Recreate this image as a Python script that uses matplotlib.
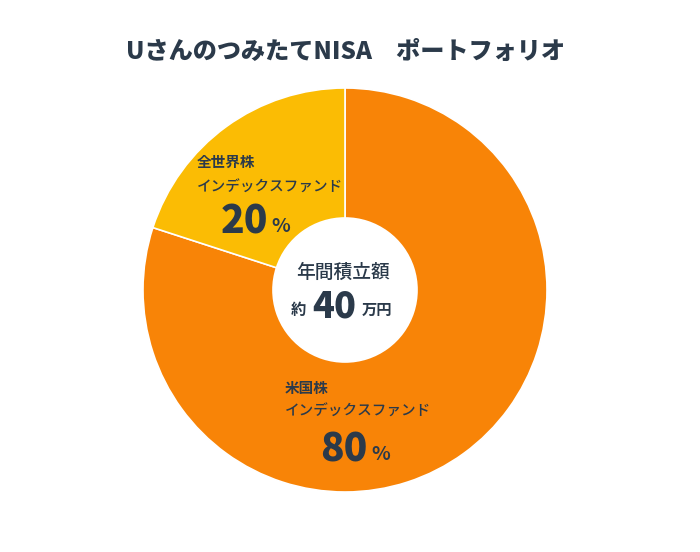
import matplotlib
matplotlib.use("Agg")
import matplotlib.pyplot as plt

plt.rcParams['font.family'] = ['Noto Sans CJK JP', 'DejaVu Sans']

title = "UさんのつみたてNISA　ポートフォリオ"
cat_line1 = ["米国株", "全世界株"]
cat_line2 = ["インデックスファンド", "インデックスファンド"]
shares = [80, 20]
colors = ["#F88407", "#FBBC04"]
center_label = "年間積立額"
annual_amount = 40

TEXT = "#2B3A4A"
W, H = 700, 552
fig = plt.figure(figsize=(7, 5.52), dpi=100)
fig.patch.set_facecolor("white")

cx, cy, R = 345, 290, 202
ax = fig.add_axes([(cx - R) / W, (H - cy - R) / H, 2 * R / W, 2 * R / H])
ax.set_aspect("equal")
ax.axis("off")

inner = 72 / R
ax.pie(shares, colors=colors, startangle=90, counterclock=False, radius=1,
       wedgeprops=dict(width=1 - inner, edgecolor="white", linewidth=1.2))
ax.set_xlim(-1, 1)
ax.set_ylim(-1, 1)

def px(x, y):
    return (x - cx) / R, (cy - y) / R

fig.text(345 / W, 1 - 52 / H, title, ha="center", va="center", fontsize=17.4,
         fontweight="heavy", color=TEXT)

# world stock label
x, y = px(197, 162)
ax.text(x, y, cat_line1[1], ha="left", va="center", fontsize=10.5, fontweight="bold", color=TEXT)
x, y = px(197, 188)
ax.text(x, y, cat_line2[1], ha="left", va="center", fontsize=10.5, fontweight="medium", color=TEXT)
x, y = px(268, 222)
ax.text(x, y, f"{shares[1]}", ha="right", va="center", fontsize=28, fontweight="heavy", color=TEXT)
x, y = px(271, 226)
ax.text(x, y, "%", ha="left", va="center", fontsize=14, fontweight="bold", color=TEXT)

# US stock label
x, y = px(285, 388)
ax.text(x, y, cat_line1[0], ha="left", va="center", fontsize=10.5, fontweight="bold", color=TEXT)
x, y = px(285, 412)
ax.text(x, y, cat_line2[0], ha="left", va="center", fontsize=10.5, fontweight="medium", color=TEXT)
x, y = px(368, 450)
ax.text(x, y, f"{shares[0]}", ha="right", va="center", fontsize=28, fontweight="heavy", color=TEXT)
x, y = px(371, 454)
ax.text(x, y, "%", ha="left", va="center", fontsize=14, fontweight="bold", color=TEXT)

# center
x, y = px(343, 272)
ax.text(x, y, center_label, ha="center", va="center", fontsize=13.5, fontweight="medium", color=TEXT)
x, y = px(298, 310)
ax.text(x, y, "約", ha="center", va="center", fontsize=11, fontweight="bold", color=TEXT)
x, y = px(334, 306)
ax.text(x, y, f"{annual_amount}", ha="center", va="center", fontsize=26, fontweight="heavy", color=TEXT)
x, y = px(377, 310)
ax.text(x, y, "万円", ha="center", va="center", fontsize=11, fontweight="bold", color=TEXT)

fig.savefig("out.png", dpi=100, facecolor="white")
